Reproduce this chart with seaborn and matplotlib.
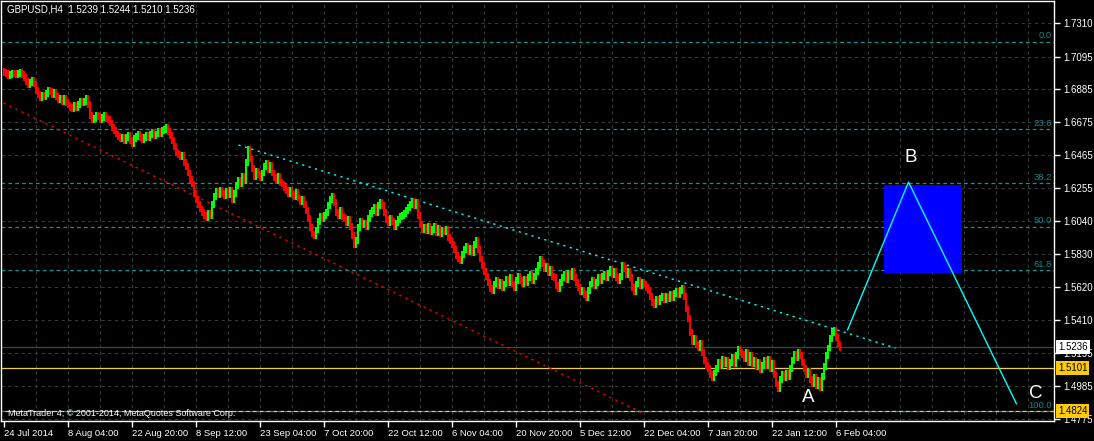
import matplotlib
matplotlib.use("Agg")
import numpy as np
import pandas as pd
import matplotlib.pyplot as plt
import matplotlib.transforms as mtransforms
from matplotlib.patches import Rectangle
import seaborn as sns

# ---------------- data ----------------
symbol_title = "GBPUSD,H4  1.5239 1.5244 1.5210 1.5236"
copyright_text = "MetaTrader 4, \u00a9 2001-2014, MetaQuotes Software Corp."

first_open = 1.7000
closes = [
    1.6995, 1.6985, 1.6975, 1.6980, 1.6990, 1.6985, 1.6978, 1.6988, 1.6992, 1.6982,
    1.6960, 1.6935, 1.6915, 1.6930, 1.6945, 1.6920, 1.6880, 1.6850, 1.6830, 1.6845,
    1.6840, 1.6860, 1.6880, 1.6870, 1.6855, 1.6865, 1.6840, 1.6820, 1.6830, 1.6810,
    1.6830, 1.6800, 1.6785, 1.6770, 1.6765, 1.6780, 1.6770, 1.6790, 1.6810, 1.6800,
    1.6810, 1.6830, 1.6790, 1.6720, 1.6690, 1.6700, 1.6720, 1.6710, 1.6690, 1.6705,
    1.6720, 1.6700, 1.6690, 1.6670, 1.6640, 1.6620, 1.6600, 1.6585, 1.6570, 1.6580,
    1.6560, 1.6575, 1.6590, 1.6560, 1.6540, 1.6570, 1.6585, 1.6600, 1.6580, 1.6565,
    1.6575, 1.6590, 1.6580, 1.6595, 1.6610, 1.6590, 1.6600, 1.6615, 1.6605, 1.6620,
    1.6630, 1.6640, 1.6615, 1.6590, 1.6560, 1.6520, 1.6480, 1.6470, 1.6455, 1.6460,
    1.6420, 1.6390, 1.6350, 1.6310, 1.6280, 1.6220, 1.6180, 1.6150, 1.6120, 1.6100,
    1.6080, 1.6065, 1.6090, 1.6075, 1.6150, 1.6200, 1.6230, 1.6210, 1.6240, 1.6220,
    1.6205, 1.6230, 1.6215, 1.6240, 1.6180, 1.6220, 1.6270, 1.6300, 1.6280, 1.6330,
    1.6300, 1.6420, 1.6500, 1.6440, 1.6380, 1.6330, 1.6360, 1.6340, 1.6320, 1.6350,
    1.6390, 1.6410, 1.6370, 1.6400, 1.6350, 1.6320, 1.6300, 1.6330, 1.6290, 1.6280,
    1.6260, 1.6240, 1.6220, 1.6240, 1.6210, 1.6200, 1.6225, 1.6190, 1.6170, 1.6180,
    1.6150, 1.6110, 1.6060, 1.6000, 1.5960, 1.5950, 1.5985, 1.6040, 1.6070, 1.6060,
    1.6080, 1.6100, 1.6140, 1.6180, 1.6200, 1.6160, 1.6100, 1.6080, 1.6110, 1.6070,
    1.6060, 1.6030, 1.6050, 1.6010, 1.5950, 1.5890, 1.5920, 1.6000, 1.6040, 1.6020,
    1.6030, 1.6010, 1.6060, 1.6090, 1.6110, 1.6130, 1.6100, 1.6140, 1.6160, 1.6140,
    1.6100, 1.6050, 1.6030, 1.6060, 1.6040, 1.6010, 1.6030, 1.6050, 1.6070, 1.6080,
    1.6090, 1.6110, 1.6130, 1.6150, 1.6170, 1.6140, 1.6160, 1.6080, 1.6020, 1.5990,
    1.6000, 1.5980, 1.6010, 1.5975, 1.5990, 1.6005, 1.5970, 1.5995, 1.5960, 1.5985,
    1.5975, 1.5990, 1.5940, 1.5920, 1.5890, 1.5860, 1.5820, 1.5800, 1.5790, 1.5830,
    1.5860, 1.5880, 1.5850, 1.5870, 1.5840, 1.5890, 1.5920, 1.5860, 1.5800, 1.5760,
    1.5720, 1.5690, 1.5650, 1.5610, 1.5600, 1.5640, 1.5660, 1.5630, 1.5650, 1.5620,
    1.5640, 1.5670, 1.5650, 1.5680, 1.5640, 1.5620, 1.5660, 1.5690, 1.5660, 1.5640,
    1.5670, 1.5650, 1.5680, 1.5700, 1.5660, 1.5690, 1.5720, 1.5760, 1.5800, 1.5770,
    1.5740, 1.5750, 1.5710, 1.5730, 1.5690, 1.5680, 1.5630, 1.5610, 1.5650, 1.5680,
    1.5700, 1.5670, 1.5710, 1.5690, 1.5720, 1.5680, 1.5650, 1.5620, 1.5590, 1.5600,
    1.5570, 1.5550, 1.5600, 1.5640, 1.5660, 1.5630, 1.5650, 1.5680, 1.5660, 1.5690,
    1.5700, 1.5680, 1.5710, 1.5730, 1.5700, 1.5720, 1.5680, 1.5660, 1.5690, 1.5760,
    1.5740, 1.5700, 1.5720, 1.5680, 1.5620, 1.5590, 1.5640, 1.5660, 1.5630, 1.5650,
    1.5640, 1.5620, 1.5600, 1.5560, 1.5520, 1.5510, 1.5540, 1.5530, 1.5550, 1.5560,
    1.5540, 1.5560, 1.5545, 1.5570, 1.5550, 1.5580, 1.5590, 1.5570, 1.5600, 1.5610,
    1.5560, 1.5480, 1.5420, 1.5330, 1.5270, 1.5290, 1.5250, 1.5230, 1.5260, 1.5200,
    1.5150, 1.5120, 1.5100, 1.5060, 1.5040, 1.5070, 1.5100, 1.5140, 1.5120, 1.5160,
    1.5130, 1.5150, 1.5110, 1.5140, 1.5170, 1.5130, 1.5180, 1.5220, 1.5200, 1.5190,
    1.5160, 1.5200, 1.5140, 1.5180, 1.5130, 1.5150, 1.5110, 1.5140, 1.5090, 1.5120,
    1.5150, 1.5120, 1.5160, 1.5100, 1.5130, 1.5060, 1.5000, 1.4970, 1.5030, 1.5060,
    1.5040, 1.5070, 1.5050, 1.5100, 1.5150, 1.5190, 1.5170, 1.5200, 1.5180, 1.5140,
    1.5100, 1.5060, 1.5080, 1.5030, 1.5000, 1.5040, 1.4990, 1.5020, 1.4980, 1.5050,
    1.5110, 1.5180, 1.5230, 1.5290, 1.5330, 1.5340, 1.5300, 1.5250, 1.5236,
]
wick_size = 0.0022

x_tick_labels = ["24 Jul 2014", "8 Aug 04:00", "22 Aug 20:00", "8 Sep 12:00",
                 "23 Sep 04:00", "7 Oct 20:00", "22 Oct 12:00", "6 Nov 04:00",
                 "20 Nov 20:00", "5 Dec 12:00", "22 Dec 04:00", "7 Jan 20:00",
                 "22 Jan 12:00", "6 Feb 04:00"]
x_tick_bars = [0, 32, 64, 96, 128, 160, 192, 224, 256, 288, 320, 352, 384, 416]
y_ticks = [1.7310, 1.7095, 1.6885, 1.6675, 1.6465, 1.6255, 1.6040,
           1.5830, 1.5620, 1.5410, 1.5195, 1.4985, 1.4775]

fib_labels = ["0.0", "23.6", "38.2", "50.0", "61.8", "100.0"]
fib_prices = [1.7190, 1.6632, 1.6286, 1.6007, 1.5728, 1.4824]

bid_price = 1.5236
support_price = 1.5101
target_price = 1.4824

channel_x = [0, 319.5]
channel_y = [1.6798, 1.4814]
trend_x = [117.5, 446.0]
trend_y = [1.6529, 1.5230]
wave_x = [422.0, 452.5, 506.5]
wave_y = [1.5345, 1.6292, 1.4872]
zone_x = [440.0, 479.0]
zone_y = [1.5710, 1.6273]
wave_labels = ["A", "B", "C"]
wave_label_x = [402.5, 453.5, 516.0]
wave_label_y = [1.4910, 1.6452, 1.4936]

# ---------------- style ----------------
sns.set_theme(style="dark")
plt.rcParams["font.family"] = ["Liberation Sans", "DejaVu Sans"]
plt.rcParams["axes.facecolor"] = "black"
plt.rcParams["figure.facecolor"] = "black"

W, H = 1094, 441
fig = plt.figure(figsize=(W / 100, H / 100), dpi=100)
ax = fig.add_axes([1 / W, (H - 421) / H, 1053 / W, 420 / H])
ax.set_facecolor("black")

xmin, xmax = -1.25, 525.25
ymin, ymax = 1.47628, 1.74508
ax.set_xlim(xmin, xmax)
ax.set_ylim(ymin, ymax)

grid_color = "#333b38"
fib_color = "#119494"

# grid
for gx in range(16, 526, 16):
    ax.axvline(gx, color=grid_color, lw=0.8, ls=(0, (3, 3)), zorder=0.5)
for gy in y_ticks:
    ax.axhline(gy, color=grid_color, lw=0.8, ls=(0, (3, 3)), zorder=0.5)

# fib levels
blend = mtransforms.blended_transform_factory(ax.transAxes, ax.transData)
for lab, p in zip(fib_labels, fib_prices):
    ax.axhline(p, color=fib_color, lw=0.9, ls=(0, (3, 2.5)), zorder=1)
    ax.text(1051 / 1053, p + 0.0008, lab, transform=blend,
            ha="right", va="bottom", color="#0e8888", fontsize=6.8, zorder=2)

# horizontal price lines
ax.axhline(bid_price, color="#2f4f4f", lw=0.9, zorder=1.2)
ax.axhline(support_price, color="#f0d040", lw=0.9, zorder=1.2)
ax.axhline(target_price, color="#f0d040", lw=0.9, ls=(2.5, (3, 2.5)), zorder=1.3)

# blue zone
ax.add_patch(Rectangle((zone_x[0], zone_y[0]), zone_x[1] - zone_x[0], zone_y[1] - zone_y[0],
                       facecolor="#0000ff", edgecolor="none", zorder=1.5))

# candles
df = pd.DataFrame({"close": closes})
df["bar"] = np.arange(len(df))
df["open"] = df["close"].shift(1).fillna(first_open)
df["high"] = df[["open", "close"]].max(axis=1) + wick_size
df["low"] = df[["open", "close"]].min(axis=1) - wick_size
colors = np.where(df["close"] >= df["open"], "#00ff00", "#ff0000")
ax.vlines(df["bar"], df["low"], df["high"], colors=colors, lw=1.45, zorder=3)

# channel / trend lines
ax.plot(channel_x, channel_y, color="#ff0000", lw=1.0, ls=(0, (1.6, 3.2)), zorder=2)
ax.plot(trend_x, trend_y, color="#00ffff", lw=1.0, ls=(0, (1.6, 3.2)), zorder=2)
sns.lineplot(x=wave_x, y=wave_y, ax=ax, color="#00ffff", lw=1.0, sort=False, zorder=4)

for lab, lx, ly in zip(wave_labels, wave_label_x, wave_label_y):
    ax.text(lx, ly, lab, color="white", fontsize=13.5, ha="center", va="center", zorder=5)

# axes styling
for s in ax.spines.values():
    s.set_color("white")
    s.set_linewidth(1.0)
ax.yaxis.tick_right()
ax.set_yticks(y_ticks)
ax.set_yticklabels([f"{v:.4f}" for v in y_ticks])
ax.set_xticks(x_tick_bars)
ax.set_xticklabels(x_tick_labels)
ax.tick_params(axis="y", colors="white", labelcolor="white", length=4, width=1,
               direction="out", pad=3, labelsize=7.0, right=True, left=False)
ax.tick_params(axis="x", colors="white", labelcolor="white", length=4, width=1,
               direction="out", pad=2, labelsize=6.8, bottom=True)
for t in ax.get_xticklabels():
    t.set_ha("left")
ax.grid(False)
ax.set_xlabel("")
ax.set_ylabel("")

# right-side price tags
tag_x = (1058 - 1) / 1053
ax.text(tag_x, bid_price, f"{bid_price:.4f}", transform=blend, ha="left", va="center",
        color="black", fontsize=7.0, zorder=10, clip_on=False,
        bbox=dict(boxstyle="square,pad=0.2", fc="white", ec="none"))
for p in (support_price, target_price):
    ax.text(tag_x, p, f"{p:.4f}", transform=blend, ha="left", va="center",
            color="black", fontsize=7.0, zorder=10, clip_on=False,
            bbox=dict(boxstyle="square,pad=0.2", fc="#ffcc00", ec="none"))

fig.text(7 / W, 1 - 10 / H, symbol_title, color="white", fontsize=7.0, ha="left", va="center")
fig.text(8 / W, 1 - 413 / H, copyright_text, color="white", fontsize=6.5, ha="left", va="center")

fig.savefig("out.png", dpi=100, facecolor="black")
